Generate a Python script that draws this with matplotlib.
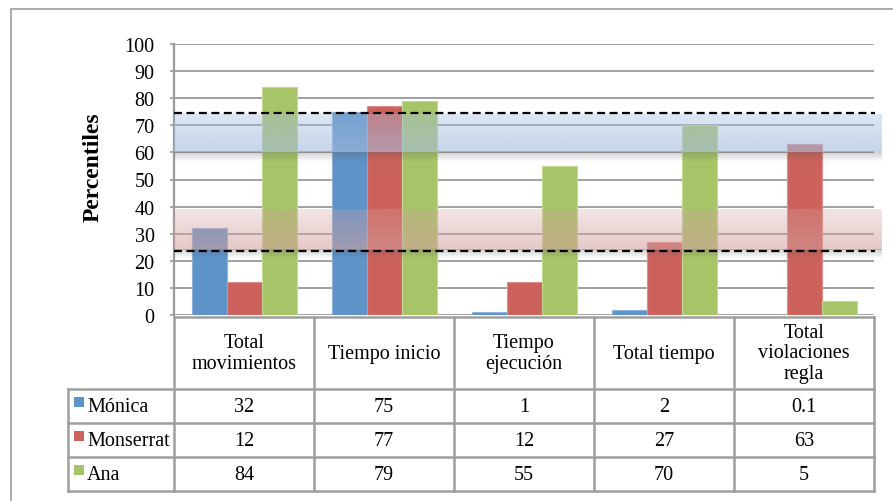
import numpy as np
import matplotlib
matplotlib.use("Agg")
import matplotlib.pyplot as plt
from matplotlib.lines import Line2D
from matplotlib.patches import Rectangle

# ---- data -------------------------------------------------------------
categories = ["Total\nmovimientos", "Tiempo inicio", "Tiempo\nejecución",
              "Total tiempo", "Total\nviolaciones\nregla"]
series_names = ["Mónica", "Monserrat", "Ana"]
monica = [32, 75, 1, 2, 0.1]
monserrat = [12, 77, 12, 27, 63]
ana = [84, 79, 55, 70, 5]
yticks = [0, 10, 20, 30, 40, 50, 60, 70, 80, 90, 100]

# reference ranges (percentiles)
high_band = (60, 74)
low_band = (24, 39)
dashed_levels = [74.5, 23.7]

colors = ["#5E93C8", "#CD625C", "#A8C468"]
edge_colors = ["#8FB3DA", "#DE8E89", "#C4D996"]

W, H = 893, 502
fig = plt.figure(figsize=(W / 100, H / 100), dpi=100)
plt.rcParams["font.family"] = ["Liberation Serif", "DejaVu Serif"]


def fx(x):
    return x / W


def fy(y):
    return 1 - y / H


# outer frame of the chart area
fig.add_artist(Rectangle((fx(11), fy(510)), fx(900) - fx(11), fy(10) - fy(510),
                         transform=fig.transFigure, fill=False,
                         edgecolor="#A6A6A6", lw=1.3))

# ---- plot area ----------------------------------------------------------
ax_l, ax_r, ax_t, ax_b = 174, 874, 45, 316
ax = fig.add_axes([fx(ax_l), fy(ax_b), fx(ax_r) - fx(ax_l), fy(ax_t) - fy(ax_b)])
n = len(categories)
ax.set_xlim(-0.5, n - 0.5)
ax.set_ylim(0, 100)

for s in ["top", "right", "bottom"]:
    ax.spines[s].set_visible(False)
ax.spines["left"].set_color("#9A9A9A")
ax.spines["left"].set_linewidth(1.6)
ax.set_yticks(yticks)
ax.set_yticklabels([str(t) for t in yticks], fontsize=14.5)
ax.tick_params(axis="y", length=3, width=1.2, color="#9A9A9A", pad=11)
ax.set_xticks([])
ax.yaxis.grid(True, color="#A0A0A0", lw=1.4)
ax.set_axisbelow(True)
ax.set_ylabel("Percentiles", fontsize=17, fontweight="bold")
ax.yaxis.set_label_coords(-0.10, 0.55)

x = np.arange(n)
bw = 0.25
for k, vals in enumerate([monica, monserrat, ana]):
    ax.bar(x + (k - 1) * bw, vals, width=bw, color=colors[k],
           edgecolor=edge_colors[k], linewidth=0.8, zorder=3)

# translucent reference bands with a vertical gradient and soft shadow
x_end = n - 0.5 + 8 / 140


def band(y0, y1, rgb, a_top, a_bot):
    rows = 60
    alpha = np.linspace(a_top, a_bot, rows)[::-1]
    img = np.zeros((rows, 2, 4))
    img[..., :3] = np.array(rgb) / 255
    img[..., 3] = alpha[:, None]
    ax.imshow(img, extent=[-0.5, x_end, y0, y1], aspect="auto",
              origin="lower", zorder=4, clip_on=False, interpolation="bilinear")
    # soft shadow below the band
    sh = np.zeros((20, 2, 4))
    sh[..., :3] = 0.35
    sh[..., 3] = np.linspace(0.0, 0.28, 20)[:, None]
    ax.imshow(sh, extent=[-0.5, x_end, y0 - 3.5, y0], aspect="auto",
              origin="lower", zorder=4, clip_on=False, interpolation="bilinear")


band(high_band[0], high_band[1], (165, 188, 222), 0.38, 0.62)
band(low_band[0], low_band[1], (212, 160, 160), 0.28, 0.58)
ax.set_xlim(-0.5, n - 0.5)
ax.set_ylim(0, 100)

for lvl in dashed_levels:
    ax.plot([-0.5, n - 0.5 + 0.01], [lvl, lvl], color="black", lw=1.6,
            dashes=(3.6, 2.0), zorder=5, clip_on=False)

# ---- data table ---------------------------------------------------------
col_x = [ax_l + 140 * i for i in range(n + 1)]
label_x0 = 68
row_y = [318, 390, 424, 458, 492]
grid_c = "#9E9E9E"
lw_t = 1.8


def hline(y, x0, x1):
    fig.add_artist(Line2D([fx(x0), fx(x1)], [fy(y), fy(y)], color=grid_c,
                          lw=lw_t, transform=fig.transFigure))


def vline(xp, y0, y1):
    fig.add_artist(Line2D([fx(xp), fx(xp)], [fy(y0), fy(y1)], color=grid_c,
                          lw=lw_t, transform=fig.transFigure))


hline(row_y[0], col_x[0], col_x[-1])
for y in row_y[1:]:
    hline(y, label_x0, col_x[-1])
for xp in col_x:
    vline(xp, row_y[0], row_y[-1])
vline(label_x0, row_y[1], row_y[-1])

# header row
for i, cat in enumerate(categories):
    fig.text(fx(col_x[i] + 70), fy((row_y[0] + row_y[1]) / 2), cat,
             ha="center", va="center", fontsize=14.5, linespacing=1.12)

# value rows
for r, (name, vals) in enumerate(zip(series_names, [monica, monserrat, ana])):
    yc = (row_y[r + 1] + row_y[r + 2]) / 2
    fig.add_artist(Rectangle((fx(74), fy(yc + 1)), fx(84) - fx(74), fy(yc - 9) - fy(yc + 1),
                             transform=fig.transFigure, facecolor=colors[r],
                             edgecolor="none"))
    fig.text(fx(87), fy(yc + 1), name, ha="left", va="center", fontsize=14.5)
    for i, v in enumerate(vals):
        fig.text(fx(col_x[i] + 70), fy(yc + 1), f"{v:g}", ha="center",
                 va="center", fontsize=14.5)

fig.savefig("out.png", dpi=100)
